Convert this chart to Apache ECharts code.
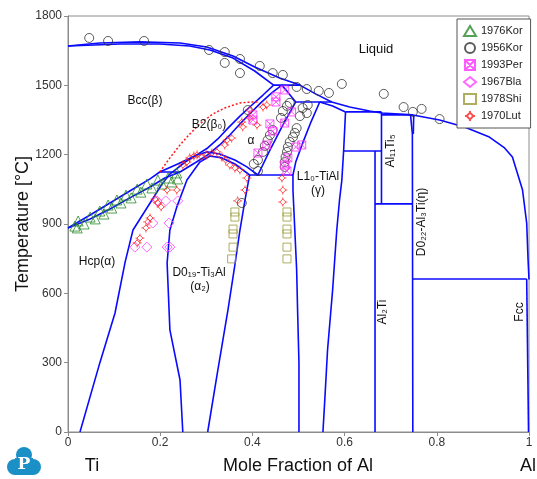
<!DOCTYPE html>
<html lang="en">
<head>
    <meta charset="UTF-8">
    <title>Ti-Al</title>
    <script src="https://cdn.jsdelivr.net/npm/echarts@6/dist/echarts.min.js"></script>
    <style>html, body { margin: 0; padding: 0; background: #fff; }</style>
</head>
<body>
<div id="main" style="width:537px;height:479px;"></div>

<script type="text/javascript">
    // phase boundaries, [mole fraction Al, T in C]
    var liquidus = [[0, 1670], [0.069, 1683], [0.156, 1688], [0.243, 1683], [0.301, 1666], [0.358, 1627], [0.405, 1579],
        [0.459, 1532], [0.503, 1501], [0.537, 1463], [0.572, 1428], [0.611, 1406], [0.654, 1389], [0.680, 1380],
        [0.748, 1372], [0.806, 1350], [0.860, 1320], [0.914, 1276], [0.947, 1229], [0.964, 1190], [0.986, 1047],
        [0.995, 904], [0.998, 744], [1, 660]];
    var bccSolidus = [[0, 1670], [0.113, 1679], [0.199, 1679], [0.264, 1670], [0.308, 1653], [0.358, 1618], [0.405, 1562], [0.446, 1501]];
    var hcpSolidus = [[0.464, 1501], [0.494, 1428]];
    var tialSolidus = [[0.546, 1428], [0.574, 1411], [0.602, 1385]];
    var peritectic1 = [[0.446, 1501], [0.503, 1501]];
    var peritectic2 = [[0.494, 1428], [0.572, 1428]];
    var peritectic3 = [[0.602, 1385], [0.680, 1385]];
    var peritectic4 = [[0.680, 1372], [0.748, 1372]];
    var bccTransus = [[0, 883], [0.048, 939], [0.091, 991], [0.134, 1043], [0.178, 1095], [0.199, 1125], [0.238, 1160],
        [0.275, 1194], [0.303, 1229], [0.325, 1268], [0.347, 1315], [0.373, 1367], [0.399, 1415], [0.423, 1458], [0.446, 1501]];
    var hcpTransus = [[0, 883], [0.048, 922], [0.091, 965], [0.134, 1013], [0.178, 1060], [0.210, 1099], [0.243, 1125],
        [0.275, 1164], [0.303, 1199], [0.329, 1242], [0.351, 1285], [0.373, 1333], [0.394, 1376], [0.418, 1424], [0.442, 1467], [0.464, 1501]];
    var eutectoid1 = [[0.199, 1125], [0.243, 1125]];
    var hcpGamma = [[0.494, 1428], [0.466, 1328], [0.438, 1220], [0.412, 1112]];
    var eutectoid2 = [[0.394, 1112], [0.488, 1112]];
    var gammaLeft = [[0.546, 1428], [0.527, 1341], [0.509, 1250], [0.494, 1168], [0.488, 1112], [0.488, 1047],
        [0.492, 874], [0.496, 701], [0.498, 528], [0.501, 299], [0.501, 0]];
    var gammaRight = [[0.602, 1385], [0.598, 1220], [0.594, 1090], [0.589, 1004], [0.583, 874], [0.574, 614],
        [0.563, 355], [0.557, 138], [0.553, 0]];
    var ti3alRight = [[0.394, 1112], [0.390, 1069], [0.384, 1004], [0.373, 874], [0.362, 723], [0.347, 528], [0.325, 268], [0.303, 0]];
    var hcpDome = [[0.026, 0], [0.069, 299], [0.102, 515], [0.124, 736], [0.141, 874], [0.178, 991], [0.204, 1073],
        [0.221, 1116], [0.254, 1168], [0.280, 1199], [0.301, 1212], [0.329, 1203], [0.362, 1177], [0.388, 1147], [0.412, 1112]];
    var ti3alDome = [[0.249, 0], [0.243, 225], [0.221, 442], [0.215, 731], [0.221, 874], [0.236, 974], [0.258, 1090],
        [0.286, 1168], [0.308, 1194], [0.334, 1186], [0.362, 1160], [0.394, 1112]];
    var al11ti5 = [[0.680, 1385], [0.680, 987]];
    var al2ti = [[0.666, 1216], [0.666, 0]];
    var peritectoid1 = [[0.598, 1216], [0.680, 1216]];
    var peritectoid2 = [[0.666, 987], [0.748, 987]];
    var al3tiLeft = [[0.743, 1372], [0.747, 1290], [0.748, 0]];
    var al3tiRight = [[0.750, 1372], [0.749, 1290]];
    var fccEutectic = [[0.748, 662], [0.995, 662]];
    var fccSolvus = [[0.995, 662], [0.999, 0]];
    var b2Order = [[0.199, 1125], [0.221, 1186], [0.243, 1242], [0.264, 1289], [0.286, 1333], [0.314, 1376],
        [0.340, 1402], [0.373, 1424], [0.399, 1428], [0.414, 1428]];

    // experimental points
    var kor1976 = [[0.015, 891], [0.020, 883], [0.022, 913], [0.035, 900], [0.048, 930], [0.059, 922], [0.069, 956],
        [0.078, 943], [0.087, 982], [0.095, 969], [0.106, 1004], [0.115, 991], [0.126, 1025], [0.137, 1013],
        [0.150, 1051], [0.158, 1038], [0.171, 1073], [0.182, 1056], [0.195, 1090], [0.204, 1073], [0.217, 1099],
        [0.225, 1082], [0.236, 1121], [0.238, 1095]];
    var kor1956 = [[0.046, 1705], [0.087, 1692], [0.165, 1692], [0.306, 1653], [0.340, 1644], [0.340, 1597],
        [0.373, 1614], [0.373, 1553], [0.416, 1584], [0.444, 1553], [0.466, 1545], [0.496, 1493], [0.518, 1484],
        [0.544, 1476], [0.566, 1467], [0.594, 1506], [0.685, 1463], [0.728, 1406], [0.748, 1385], [0.767, 1398],
        [0.806, 1354],
        [0.390, 1393], [0.481, 1424], [0.475, 1411], [0.466, 1389], [0.462, 1359], [0.444, 1307], [0.438, 1285],
        [0.433, 1263], [0.427, 1238], [0.423, 1212], [0.412, 1177], [0.403, 1160], [0.412, 1129],
        [0.509, 1402], [0.520, 1415], [0.518, 1380], [0.503, 1367], [0.496, 1315], [0.492, 1294], [0.488, 1276],
        [0.481, 1255], [0.477, 1233], [0.475, 1212], [0.472, 1190], [0.470, 1168], [0.470, 1147],
        [0.377, 991]];
    var per1993 = [[0.470, 1480], [0.451, 1450], [0.451, 1428], [0.401, 1372], [0.401, 1350], [0.485, 1385],
        [0.470, 1337], [0.438, 1333], [0.444, 1302], [0.431, 1242], [0.412, 1207], [0.507, 1242], [0.494, 1233],
        [0.477, 1186], [0.470, 1155], [0.475, 1129]];
    var bla1967 = [[0.193, 1000], [0.212, 1000], [0.238, 1000], [0.184, 904], [0.219, 904], [0.145, 800],
        [0.171, 800], [0.215, 800], [0.221, 800]];
    var shi1978 = [[0.362, 952], [0.362, 930], [0.358, 878], [0.358, 857], [0.358, 800], [0.355, 749],
        [0.475, 952], [0.475, 930], [0.475, 878], [0.475, 857], [0.475, 800], [0.475, 749]];
    var lut1970 = [[0.150, 818], [0.156, 839], [0.169, 883], [0.173, 909], [0.178, 926], [0.189, 1008], [0.195, 991],
        [0.202, 974], [0.215, 1047], [0.236, 1047], [0.249, 1155], [0.258, 1168], [0.264, 1186], [0.273, 1194],
        [0.280, 1199], [0.290, 1190], [0.301, 1199], [0.312, 1207], [0.323, 1212], [0.334, 1190], [0.342, 1177],
        [0.351, 1155], [0.362, 1142], [0.373, 1134], [0.345, 1263], [0.355, 1272], [0.340, 1242], [0.377, 1341],
        [0.379, 1320], [0.394, 1393], [0.394, 1359], [0.410, 1328], [0.423, 1406], [0.431, 1415],
        [0.388, 1099], [0.384, 1047], [0.368, 1000], [0.464, 1099], [0.466, 1047], [0.466, 995]];

    var blueLines = [liquidus, bccSolidus, hcpSolidus, tialSolidus, peritectic1, peritectic2, peritectic3, peritectic4,
        bccTransus, hcpTransus, eutectoid1, hcpGamma, eutectoid2, gammaLeft, gammaRight, ti3alRight, hcpDome,
        ti3alDome, al11ti5, al2ti, peritectoid1, peritectoid2, al3tiLeft, al3tiRight, fccEutectic, fccSolvus];

    var font = 'Liberation Sans, Arial, sans-serif';
    var series = [];
    blueLines.forEach(function (d) {
        series.push({
            type: 'line', data: d, showSymbol: false, silent: true, z: 3,
            lineStyle: {color: '#0a0aff', width: 1.6}
        });
    });
    series.push({
        type: 'line', data: b2Order, showSymbol: false, silent: true, z: 3,
        lineStyle: {color: '#ff1a1a', width: 1.5, type: [2, 2]}
    });

    var points = [
        {name: '1976Kor', data: kor1976, symbol: 'triangle', size: 10, color: '#2a8a2a'},
        {name: '1956Kor', data: kor1956, symbol: 'circle', size: 9, color: '#333333'},
        {name: '1993Per', data: per1993, symbol: 'path://M0,0H10V10H0Z M0,0L10,10 M10,0L0,10', size: 8, color: '#ff33ff'},
        {name: '1967Bla', data: bla1967, symbol: 'diamond', size: 10, color: '#ff44ff'},
        {name: '1978Shi', data: shi1978, symbol: 'rect', size: 8, color: '#9a9a3a'},
        {name: '1970Lut', data: lut1970, symbol: 'path://M5,1L9,5L5,9L1,5Z M5,-1V1 M5,9V11 M-1,5H1 M9,5H11', size: 9, color: '#ff2020'}
    ];
    points.forEach(function (p) {
        series.push({
            name: p.name, type: 'scatter', data: p.data, symbol: p.symbol, symbolSize: p.size, z: 4,
            itemStyle: {color: 'rgba(0,0,0,0)', borderColor: p.color, borderWidth: 1}
        });
    });

    function label(text, x, y, size, rot) {
        return {
            type: 'text', x: x, y: y, rotation: rot || 0, z: 10,
            style: {text: text, fill: '#111', font: size + 'px ' + font, align: 'center', verticalAlign: 'middle'}
        };
    }

    var myChart = echarts.init(document.getElementById('main'));
    option = {
        backgroundColor: '#fff',
        animation: false,
        grid: {left: 68, right: 8, top: 16, bottom: 47, show: true, borderColor: '#8c8c8c', borderWidth: 1},
        xAxis: {
            type: 'value', min: 0, max: 1, interval: 0.2,
            axisLine: {lineStyle: {color: '#8c8c8c'}},
            axisTick: {length: 4, lineStyle: {color: '#8c8c8c'}},
            axisLabel: {color: '#333', fontSize: 12, fontFamily: font, margin: 5,
                formatter: function (v) { return String(Math.round(v * 10) / 10); }},
            splitLine: {show: false}
        },
        yAxis: {
            type: 'value', min: 0, max: 1800, interval: 300,
            axisLine: {show: true, lineStyle: {color: '#8c8c8c'}},
            axisTick: {show: true, length: 4, lineStyle: {color: '#8c8c8c'}},
            axisLabel: {color: '#333', fontSize: 12, fontFamily: font, margin: 6,
                formatter: function (v) { return String(v); }},
            splitLine: {show: false}
        },
        legend: {
            data: points.map(function (p) { return p.name; }),
            orient: 'vertical', left: 457, top: 19,
            padding: [6, 8, 6, 6], itemGap: 5, itemWidth: 12, itemHeight: 10,
            backgroundColor: '#fff', borderColor: '#555', borderWidth: 1,
            textStyle: {fontSize: 11, fontFamily: font, color: '#222'}
        },
        graphic: [
            label('Liquid', 376, 49, 13),
            label('Bcc(β)', 145, 101, 12),
            label('B2(β₀)', 209, 125, 12),
            label('α', 251, 141, 12),
            label('Hcp(α)', 97, 262, 12),
            label('D0₁₉-Ti₃Al', 199, 273, 12),
            label('(α₂)', 200, 287, 12),
            label('L1₀-TiAl', 318, 177, 12),
            label('(γ)', 318, 191, 12),
            label('Al₁₁Ti₅', 391, 151, 12, Math.PI / 2),
            label('D0₂₂-Al₃Ti(η)', 422, 222, 12, Math.PI / 2),
            label('Al₂Ti', 383, 312, 12, Math.PI / 2),
            label('Fcc', 520, 312, 12, Math.PI / 2),
            label('Temperature [°C]', 23, 224, 18, Math.PI / 2),
            label('Mole Fraction of Al', 298, 466, 18),
            label('Ti', 92, 466, 18),
            label('Al', 528, 466, 18),
            // logo
            {type: 'circle', shape: {cx: 24, cy: 455, r: 8}, style: {fill: '#1b90c6'}},
            {type: 'circle', shape: {cx: 15, cy: 467, r: 8}, style: {fill: '#1b90c6'}},
            {type: 'circle', shape: {cx: 33, cy: 467, r: 8}, style: {fill: '#1b90c6'}},
            {type: 'rect', shape: {x: 15, y: 458, width: 18, height: 17}, style: {fill: '#1b90c6'}},
            {type: 'text', x: 24, y: 465, style: {text: 'P', fill: '#fff', font: 'bold 17px DejaVu Serif, serif', align: 'center', verticalAlign: 'middle'}}
        ],
        series: series
    };
    myChart.setOption(option);
</script>
</body>
</html>
